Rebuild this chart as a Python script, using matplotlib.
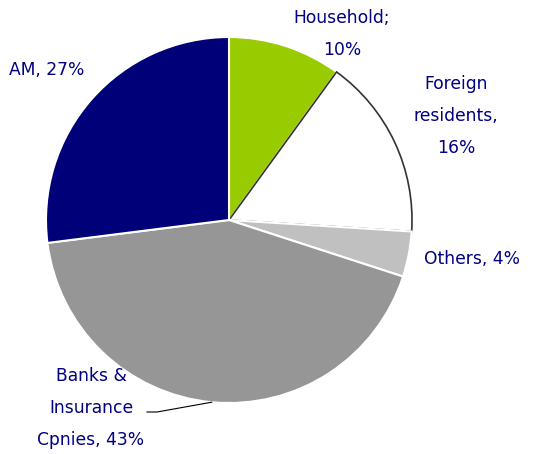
import numpy as np
import matplotlib
matplotlib.use("Agg")
from matplotlib import pyplot as plt

# holders of the debt, in %
labels = ["Household;\n10%", "Foreign\nresidents,\n16%", "Others, 4%",
          "Banks &\nInsurance\nCpnies, 43%", "AM, 27%"]
shares = [10, 16, 4, 43, 27]
colors = ["#99CC00", "#FFFFFF", "#C0C0C0", "#969696", "#000078"]

W, H = 533, 454
fig = plt.figure(figsize=(W / 100, H / 100), dpi=100)
ax = fig.add_axes([0, 0, 1, 1])

cx, cy, r = 229, H - 220, 183
wedges, _ = ax.pie(shares, colors=colors, startangle=90, counterclock=False,
                   center=(cx, cy), radius=r, frame=True,
                   wedgeprops=dict(edgecolor="white", linewidth=1.5))
# white slice gets a dark outline (others slice drawn on top of it)
wedges[1].set_edgecolor("#333333")
wedges[1].set_linewidth(1.2)
ax.set_xlim(0, W)
ax.set_ylim(0, H)
ax.set_aspect("equal")
ax.set_axis_off()

txt = dict(color="#000080", fontsize=12.3, ha="center", va="center",
           linespacing=2.0, family="DejaVu Sans")
ax.text(342, H - 34, labels[0], **txt)
ax.text(456, H - 116, labels[1], **txt)
ax.text(472, H - 259, labels[2], **txt)
ax.text(91, H - 408, labels[3], **txt)
ax.text(47, H - 70, labels[4], **txt)

# leader line for the banks slice
w = wedges[3]
mid = np.radians((w.theta1 + w.theta2) / 2)
ex, ey = cx + r * np.cos(mid), cy + r * np.sin(mid)
ax.plot([147, 157, ex], [H - 412, H - 412, ey], color="black", lw=0.8)

fig.savefig("out.png", dpi=100)
